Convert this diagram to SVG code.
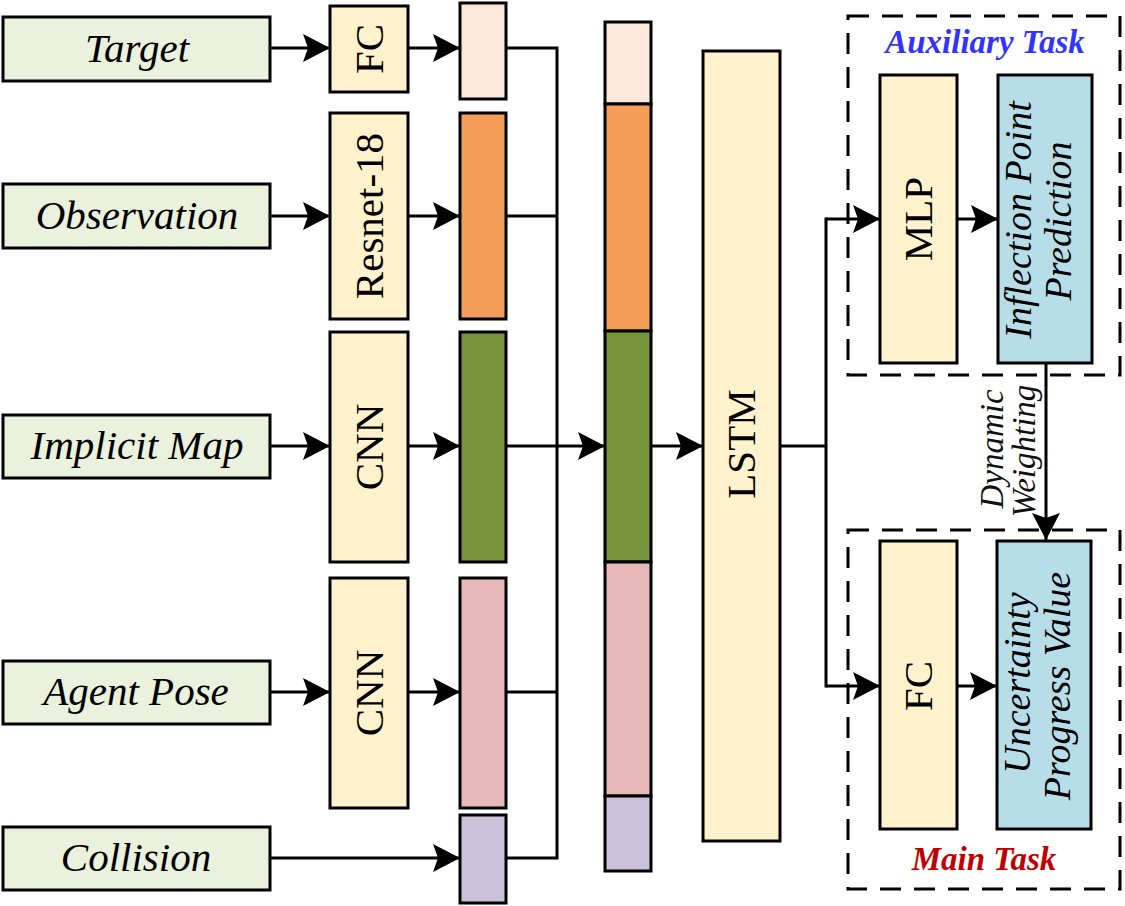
<svg xmlns="http://www.w3.org/2000/svg" width="1125" height="906" viewBox="0 0 1125 906">
<defs>
<marker id="ah" markerUnits="userSpaceOnUse" markerWidth="30" markerHeight="30" refX="27" refY="14" orient="auto">
<path d="M0,0 L27,14 L0,28 L5,14 Z" fill="#000"/>
</marker>
<style>
.in{fill:#EAF1DD;stroke:#000;stroke-width:3}
.blk{fill:#FFF2CC;stroke:#000;stroke-width:3}
.blue{fill:#B7DEE8;stroke:#000;stroke-width:3}
.bar{stroke:#000;stroke-width:3}
.dash{fill:none;stroke:#000;stroke-width:3;stroke-dasharray:21 13}
.ln{fill:none;stroke:#000;stroke-width:3}
.arr{fill:none;stroke:#000;stroke-width:3;marker-end:url(#ah)}
.it{font-family:"Liberation Serif",serif;font-style:italic;font-size:41px;text-anchor:middle;fill:#000}
.rt{font-family:"Liberation Serif",serif;font-size:41px;text-anchor:middle;fill:#000}
.rit{font-family:"Liberation Serif",serif;font-style:italic;font-size:38px;text-anchor:middle;fill:#000}
.task{font-family:"Liberation Serif",serif;font-style:italic;font-weight:bold;font-size:33px;text-anchor:middle}
.dw{font-family:"Liberation Serif",serif;font-style:italic;font-size:33px;text-anchor:middle;fill:#111}
</style>
</defs>
<rect width="1125" height="906" fill="#fff"/>

<g id="connectors">
<path class="arr" d="M270,48 H330"/>
<path class="arr" d="M270,216 H330"/>
<path class="arr" d="M270,446 H330"/>
<path class="arr" d="M270,692 H330"/>
<path class="arr" d="M270,858 H460"/>
<path class="arr" d="M408,48 H460"/>
<path class="arr" d="M408,216 H460"/>
<path class="arr" d="M408,446 H460"/>
<path class="arr" d="M408,692 H460"/>
<path class="ln" d="M506,48 H557 M506,216 H557 M506,692 H557 M506,858 H557 M557,46.5 V859.5"/>
<path class="arr" d="M506,446 H605"/>
<path class="arr" d="M651,446 H703"/>
<path class="ln" d="M780,446 H826"/>
<path class="ln" d="M826,217.5 V687.5"/>
<path class="arr" d="M826,219 H880"/>
<path class="arr" d="M826,686 H880"/>
<path class="arr" d="M957,219 H998"/>
<path class="arr" d="M957,686 H997"/>
<path class="arr" d="M1046,363 V540"/>
</g>

<g id="input-target"><rect class="in" x="3" y="17" width="267" height="64"/><text class="it" x="137" y="62">Target</text></g>
<g id="input-observation"><rect class="in" x="3" y="184" width="267" height="64"/><text class="it" x="137" y="229">Observation</text></g>
<g id="input-implicit-map"><rect class="in" x="3" y="415" width="267" height="63"/><text class="it" x="137" y="459">Implicit Map</text></g>
<g id="input-agent-pose"><rect class="in" x="3" y="661" width="267" height="63"/><text class="it" x="136" y="705">Agent Pose</text></g>
<g id="input-collision"><rect class="in" x="3" y="827" width="267" height="63"/><text class="it" x="136" y="871">Collision</text></g>

<g id="fc-target"><rect class="blk" x="330" y="6" width="78" height="86"/><text class="rt" transform="rotate(-90 369 49)" x="369" y="63">FC</text></g>
<g id="resnet"><rect class="blk" x="330" y="113" width="78" height="206"/><text class="rt" transform="rotate(-90 369 216)" x="369" y="230">Resnet-18</text></g>
<g id="cnn-map"><rect class="blk" x="330" y="332" width="78" height="230"/><text class="rt" transform="rotate(-90 369 447)" x="369" y="461">CNN</text></g>
<g id="cnn-pose"><rect class="blk" x="330" y="578" width="78" height="230"/><text class="rt" transform="rotate(-90 369 693)" x="369" y="707">CNN</text></g>

<g id="feat-target"><rect class="bar" fill="#FCE9DC" x="460" y="3" width="46" height="96"/></g>
<g id="feat-observation"><rect class="bar" fill="#F59E5A" x="460" y="113" width="46" height="206"/></g>
<g id="feat-map"><rect class="bar" fill="#77933C" x="460" y="332" width="46" height="230"/></g>
<g id="feat-pose"><rect class="bar" fill="#E6B9B8" x="460" y="578" width="46" height="230"/></g>
<g id="feat-collision"><rect class="bar" fill="#CCC1DA" x="460" y="815" width="46" height="88"/></g>

<g id="concat">
<rect class="bar" fill="#FCE9DC" x="605" y="22" width="46" height="82"/>
<rect class="bar" fill="#F59E5A" x="605" y="104" width="46" height="227"/>
<rect class="bar" fill="#77933C" x="605" y="331" width="46" height="231"/>
<rect class="bar" fill="#E6B9B8" x="605" y="562" width="46" height="234"/>
<rect class="bar" fill="#CCC1DA" x="605" y="796" width="46" height="75"/>
</g>

<g id="lstm"><rect class="blk" x="703" y="51" width="77" height="790"/><text class="rt" transform="rotate(-90 741 444)" x="741" y="458">LSTM</text></g>

<g id="auxiliary-task">
<rect class="dash" x="848" y="16" width="272" height="359"/>
<text class="task" fill="#3333FF" x="985" y="53">Auxiliary Task</text>
</g>
<g id="mlp"><rect class="blk" x="880" y="75" width="77" height="288"/><text class="rt" transform="rotate(-90 918 219)" x="918" y="233">MLP</text></g>
<g id="inflection"><rect class="blue" x="998" y="75" width="94" height="288"/>
<text class="rit" transform="rotate(-90 1031 220)" x="1031" y="220">Inflection Point</text>
<text class="rit" transform="rotate(-90 1071 221)" x="1071" y="221">Prediction</text>
</g>

<g id="dynamic-weighting-label">
<text class="dw" transform="rotate(-90 1003 449)" x="1003" y="449">Dynamic</text>
<text class="dw" transform="rotate(-90 1035 451)" x="1035" y="451">Weighting</text>
</g>

<g id="main-task">
<rect class="dash" x="848" y="530" width="272" height="359"/>
<text class="task" fill="#C00000" x="984" y="870">Main Task</text>
</g>
<g id="fc-main"><rect class="blk" x="880" y="541" width="77" height="288"/><text class="rt" transform="rotate(-90 918 686)" x="918" y="700">FC</text></g>
<g id="uncertainty"><rect class="blue" x="997" y="541" width="94" height="288"/>
<text class="rit" transform="rotate(-90 1030 683)" x="1030" y="683">Uncertainty</text>
<text class="rit" transform="rotate(-90 1070 686)" x="1070" y="686">Progress Value</text>
</g>
</svg>
